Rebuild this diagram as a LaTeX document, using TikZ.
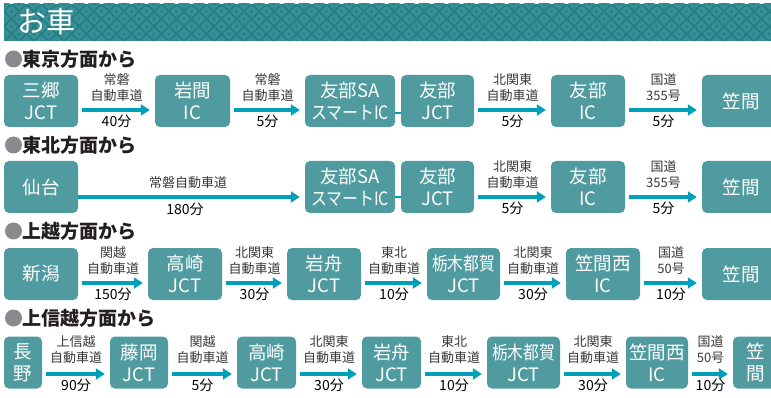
\documentclass[tikz,border=0pt]{standalone}
\usepackage{fontspec}
\usepackage{graphicx}
\newfontfamily\jp{Noto Sans CJK JP}
\usetikzlibrary{arrows.meta,calc}
\definecolor{boxc}{RGB}{80,155,160}
\definecolor{arrc}{RGB}{0,160,186}
\definecolor{hdr}{RGB}{38,126,134}
\definecolor{hdrl}{RGB}{56,143,150}
\definecolor{labc}{RGB}{55,55,55}
\definecolor{bulc}{RGB}{138,138,142}
\definecolor{ttlc}{RGB}{35,31,32}
\tikzset{
  box/.style={fill=boxc, rounded corners=5pt, text=white, align=center, inner sep=0pt,
    font=\jp\fontsize{18.5}{22}\selectfont, minimum height=52pt},
  arr/.style={draw=arrc, line width=3.5pt, -{Triangle[length=9pt,width=11pt]}},
  conn/.style={draw=arrc, line width=2pt},
  lab/.style={font=\jp\fontsize{13}{16}\selectfont, text=labc, align=center, inner sep=0pt},
  mins/.style={font=\jp\fontsize{14}{15}\selectfont, text=black, inner sep=0pt},
  ttl/.style={font=\jp\bfseries\fontsize{19}{19}\selectfont, text=ttlc, inner sep=0pt, anchor=west},
  bul/.style={circle, fill=bulc, minimum size=17pt, inner sep=0pt},
}
\def\lo{-22}
% from, to, dy, label, minutes
\newcommand\leg[5]{%
  \draw[arr] ($(#1.east)+(4,#3)$) -- ($(#2.west)+(-5,#3)$);
  \node[lab] (#1#2l) at ($(#1.east)!.5!(#2.west)+(0,{#3+\lo})$) {#4};
  \node[mins] (#1#2m) at ($(#1.east)!.5!(#2.west)+(0,{#3+11.5})$) {#5};
}
\begin{document}
\begin{tikzpicture}[x=1pt,y=-1pt]
\useasboundingbox (0,0) rectangle (771,398);
% header
\begin{scope}
  \clip (4,4) rectangle (771,41);
  \fill[hdr] (4,4) rectangle (771,41);
  \foreach \i in {0,...,52}{
    \foreach \j in {0,...,3}{
      \foreach \o in {0,7.5}{
        \fill[hdrl] ({4+15*\i+\o},{4+15*\j+\o}) +(-6,0) -- +(0,-6) -- +(6,0) -- +(0,6) -- cycle;
        \fill[hdr] ({4+15*\i+\o},{4+15*\j+\o}) +(-1.6,0) -- +(0,-1.6) -- +(1.6,0) -- +(0,1.6) -- cycle;
      }
    }
  }
\end{scope}
\node[font=\jp\fontsize{29}{29}\selectfont, text=white, anchor=west, inner sep=0pt] (hd) at (17,22) {お車};

% titles
\node[bul] (t1b) at (13.5,59) {};
\node[ttl] (t1) at (22,59) {東京方面から};
\node[bul] (t2b) at (13.5,145) {};
\node[ttl] (t2) at (22,145) {東北方面から};
\node[bul] (t3b) at (13.5,231) {};
\node[ttl] (t3) at (22,231) {上越方面から};
\node[bul] (t4b) at (13.5,318) {};
\node[ttl] (t4) at (22,318) {上信越方面から};

% row 1
\node[box, minimum width=74pt] (a1) at (41,101) {三郷\\JCT};
\node[box, minimum width=75pt] (a2) at (192.5,101) {岩間\\IC};
\node[box, minimum width=90pt] (a3) at (350,101) {友部SA\\\scalebox{0.86}[1]{スマートIC}};
\node[box, minimum width=73pt] (a4) at (437.5,101) {友部\\JCT};
\node[box, minimum width=74pt] (a5) at (588,101) {友部\\IC};
\node[box, minimum width=78pt] (a6) at (741,101) {笠間};
\leg{a1}{a2}{9}{常磐\\自動車道}{40分}
\leg{a2}{a3}{9}{常磐\\自動車道}{5分}
\draw[conn] ($(a3.east)+(0,12)$) -- ($(a4.west)+(0,12)$);
\leg{a4}{a5}{9}{北関東\\自動車道}{5分}
\leg{a5}{a6}{9}{国道\\355号}{5分}

% row 2
\node[box, minimum width=74pt] (b1) at (41,187) {仙台};
\node[box, minimum width=90pt] (b2) at (350,187) {友部SA\\\scalebox{0.86}[1]{スマートIC}};
\node[box, minimum width=73pt] (b3) at (437.5,187) {友部\\JCT};
\node[box, minimum width=74pt] (b4) at (588,187) {友部\\IC};
\node[box, minimum width=78pt] (b5) at (741,187) {笠間};
\draw[arr] ($(b1.east)+(0,10)$) -- ($(b2.west)+(-5,10)$);
\node[lab] (b12l) at (188,183) {常磐自動車道};
\node[mins] (b12m) at (185,209) {180分};
\draw[conn] ($(b2.east)+(0,10)$) -- ($(b3.west)+(0,10)$);
\leg{b3}{b4}{10}{北関東\\自動車道}{5分}
\leg{b4}{b5}{10}{国道\\355号}{5分}

% row 3
\node[box, minimum width=74pt] (c1) at (41,274) {新潟};
\node[box, minimum width=74pt] (c2) at (185,274) {高崎\\JCT};
\node[box, minimum width=74pt] (c3) at (324,274) {岩舟\\JCT};
\node[box, minimum width=73pt] (c4) at (463.5,274) {\scalebox{0.85}[1]{栃木都賀}\\JCT};
\node[box, minimum width=74pt] (c5) at (603,274) {笠間西\\IC};
\node[box, minimum width=78pt] (c6) at (741,274) {笠間};
\leg{c1}{c2}{9}{関越\\自動車道}{150分}
\leg{c2}{c3}{9}{北関東\\自動車道}{30分}
\leg{c3}{c4}{9}{東北\\自動車道}{10分}
\leg{c4}{c5}{9}{北関東\\自動車道}{30分}
\leg{c5}{c6}{9}{国道\\50号}{10分}

% row 4
\def\lo{-24}
\node[box, minimum width=38pt] (d1) at (23,362.5) {長\\野};
\node[box, minimum width=58pt] (d2) at (139,362.5) {藤岡\\JCT};
\node[box, minimum width=59pt] (d3) at (266.5,362.5) {高崎\\JCT};
\node[box, minimum width=59pt] (d4) at (391.5,362.5) {岩舟\\JCT};
\node[box, minimum width=73pt] (d5) at (523.5,362.5) {\scalebox{0.85}[1]{栃木都賀}\\JCT};
\node[box, minimum width=62pt] (d6) at (657,362.5) {笠間西\\IC};
\node[box, minimum width=45pt] (d7) at (755.5,362.5) {笠\\間};
\leg{d1}{d2}{11.5}{上信越\\自動車道}{90分}
\leg{d2}{d3}{11.5}{関越\\自動車道}{5分}
\leg{d3}{d4}{11.5}{北関東\\自動車道}{30分}
\leg{d4}{d5}{11.5}{東北\\自動車道}{10分}
\leg{d5}{d6}{11.5}{北関東\\自動車道}{30分}
\leg{d6}{d7}{11.5}{国道\\50号}{10分}
\end{tikzpicture}
\end{document}
